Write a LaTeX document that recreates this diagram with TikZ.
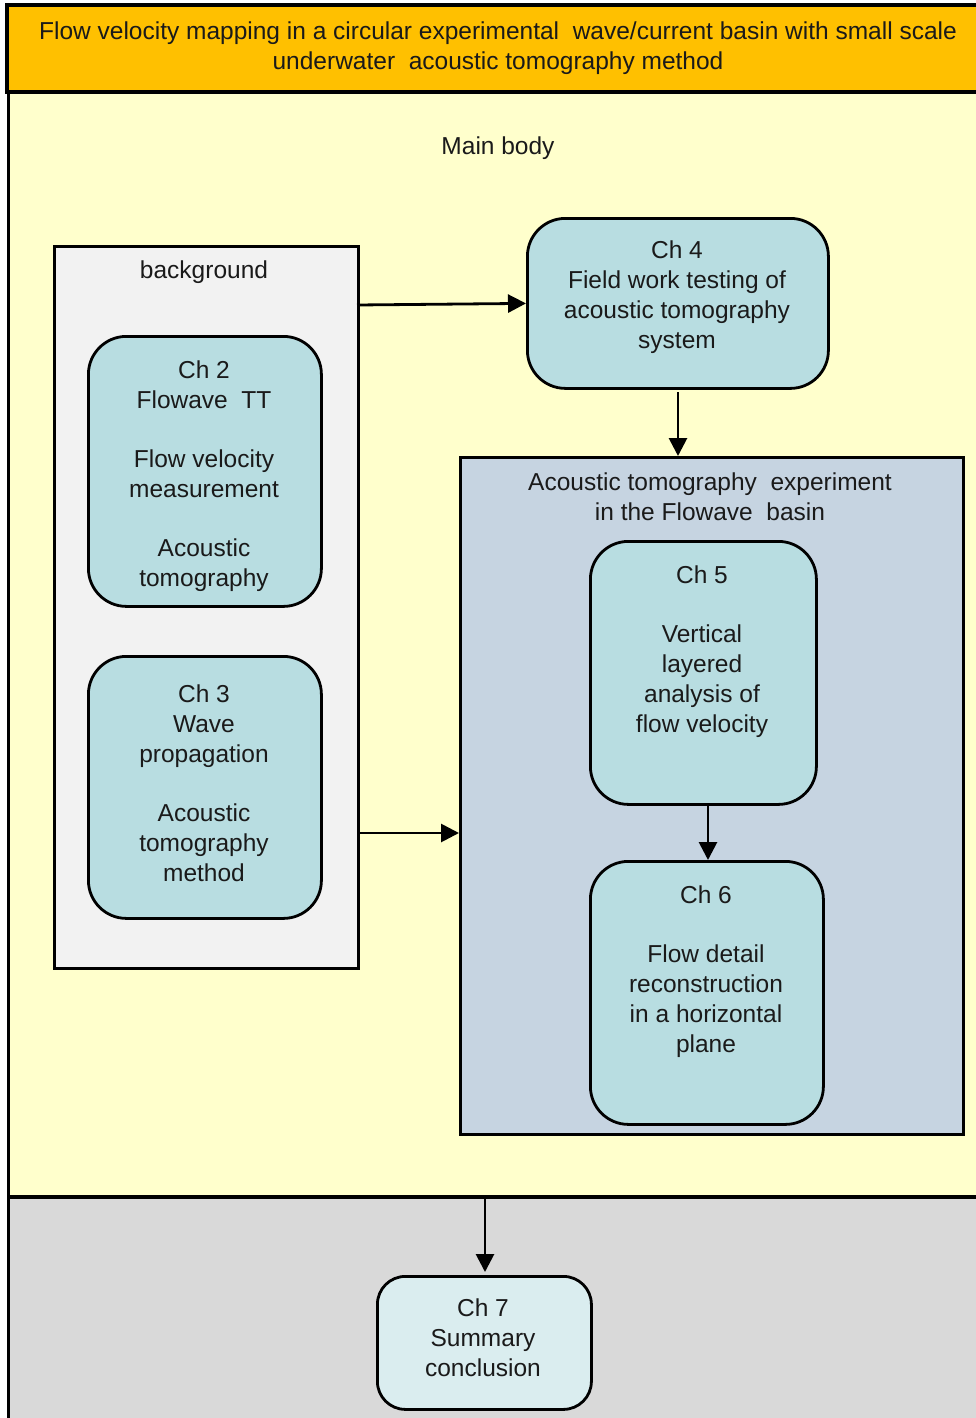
\documentclass[tikz,border=0pt]{standalone}
\usepackage{fontspec}
\setmainfont{Liberation Sans}
\usetikzlibrary{arrows.meta}
\definecolor{hdr}{HTML}{FFC000}
\definecolor{body}{HTML}{FFFFCC}
\definecolor{foot}{HTML}{D9D9D9}
\definecolor{bgbox}{HTML}{F2F2F2}
\definecolor{teal}{HTML}{B8DDE1}
\definecolor{acou}{HTML}{C6D4E1}
\definecolor{lightteal}{HTML}{DAEDEF}
\definecolor{txt}{HTML}{1A1A1A}
\tikzset{
  panel/.style={draw=black, line width=2.8pt, inner sep=0pt},
  chapbox/.style={draw=black, line width=2.8pt, fill=teal, rounded corners=38pt, inner sep=0pt},
  lbl/.style={text=txt, align=center, font=\fontsize{24.5}{30}\selectfont, inner sep=0pt},
  arr/.style={line width=2.8pt, -{Triangle[length=18pt,width=18pt]}}
}
\begin{document}
\begin{tikzpicture}[x=1pt,y=-1pt]
\useasboundingbox (0,0) rectangle (976,1418);
% regions
\fill[body] (8,90) rectangle (980,1197);
\fill[foot] (8,1197) rectangle (980,1420);
\draw[line width=3pt] (8,90) -- (8,1420);
\draw[line width=3.2pt] (8,1197) -- (980,1197);
\node[panel, fill=hdr, line width=3.8pt, minimum width=975pt, minimum height=87pt, anchor=north west] (header) at (5,3) {};
\node[lbl] (title) at (498,48) {Flow velocity mapping in a circular experimental \ wave/current basin with small scale\\underwater \ acoustic tomography method};
\node[lbl] (mainbody) at (498,148) {Main body};
% background panel
\node[panel, fill=bgbox, minimum width=304pt, minimum height=722pt, anchor=north west] (bg) at (53,245) {};
\node[lbl] (bgtxt) at (204,272) {background};
% Ch2
\node[chapbox, minimum width=233pt, minimum height=270pt, anchor=north west] (ch2) at (87,335) {};
\node[lbl] (ch2t) at (204,476) {Ch 2\\Flowave \ TT\\[29pt]Flow velocity\\measurement\\[29pt]Acoustic\\tomography};
% Ch3
\node[chapbox, minimum width=233pt, minimum height=262pt, anchor=north west] (ch3) at (87,655) {};
\node[lbl] (ch3t) at (204,783) {Ch 3\\Wave\\propagation\\[29pt]Acoustic\\tomography\\method};
% Ch4
\node[chapbox, minimum width=301pt, minimum height=170pt, anchor=north west] (ch4) at (526,217) {};
\node[lbl] (ch4t) at (677,297) {Ch 4\\Field work testing of\\acoustic tomography\\system};
% Acoustic panel
\node[panel, fill=acou, minimum width=503pt, minimum height=677pt, anchor=north west] (acp) at (459,456) {};
\node[lbl] (acpt) at (710,497) {Acoustic tomography \ experiment\\in the Flowave \ basin};
% Ch5
\node[chapbox, minimum width=226pt, minimum height=263pt, anchor=north west] (ch5) at (589,540) {};
\node[lbl] (ch5t) at (702,652) {Ch 5\\[29pt]Vertical\\layered\\analysis of\\flow velocity};
% Ch6
\node[chapbox, minimum width=233pt, minimum height=263pt, anchor=north west] (ch6) at (589,860) {};
\node[lbl] (ch6t) at (706,972) {Ch 6\\[29pt]Flow detail\\reconstruction\\in a horizontal\\plane};
% Ch7
\node[chapbox, fill=lightteal, rounded corners=28pt, minimum width=214pt, minimum height=133pt, anchor=north west] (ch7) at (376,1275) {};
\node[lbl] (ch7t) at (483,1338) {Ch 7\\Summary\\conclusion};
% connectors
\coordinate (a1) at (357,305);
\draw[arr] (a1) -- (ch4.west);
\coordinate (a2) at (678,392);
\draw[arr] (a2) -- (acp.north -| a2);
\coordinate (a3) at (360,833);
\draw[arr] (a3) -- (acp.west |- a3);
\coordinate (a4) at (708,803);
\draw[arr] (a4) -- (ch6.north -| a4);
\coordinate (a5) at (485,1197);
\coordinate (a6) at (485,1272);
\draw[arr] (a5) -- (a6);
\end{tikzpicture}
\end{document}
